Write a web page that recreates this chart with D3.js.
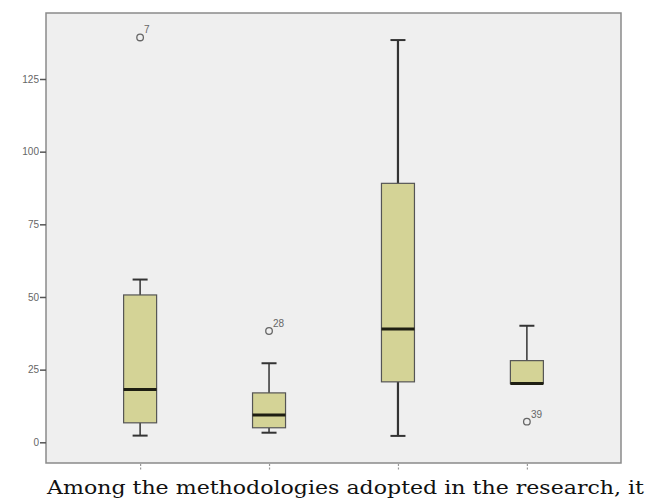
<html>
<script src="https://d3js.org/d3.v7.min.js"></script>
<style>
  body { margin: 0; background: #fff; }
  .tick-lbl { font-family: Arial, "Liberation Sans", sans-serif; font-size: 10px; fill: #666; }
  .caption { font-family: "DejaVu Serif", "Liberation Serif", serif; font-size: 19px; fill: #111; }
</style>
<body>
<svg width="653" height="500"></svg>
<script>
// box summaries
var groups   = ["1", "2", "3", "4"];
var whiskLo  = [2.3, 3.3, 2.2, 20.2];
var q1       = [6.7, 5.0, 20.8, 20.2];
var median   = [18.2, 9.4, 39.0, 20.2];
var q3       = [50.7, 17.0, 89.1, 28.1];
var whiskHi  = [56.0, 27.2, 138.4, 40.1];
var outGroup = ["1", "2", "4"];
var outValue = [139.3, 38.3, 7.1];
var outLabel = ["7", "28", "39"];
var yTicks   = [0, 25, 50, 75, 100, 125];

function draw() {
  var svg = d3.select("svg");
  var pLeft = 46, pRight = 621, pTop = 13, pBottom = 463;

  var x = d3.scalePoint().domain(groups).range([pLeft, pRight]).padding(0.73);
  var y = d3.scaleLinear().domain([0, 125]).range([442.3, 79]);

  // plot frame
  svg.append("rect")
    .attr("x", pLeft).attr("y", pTop)
    .attr("width", pRight - pLeft).attr("height", pBottom - pTop)
    .attr("fill", "#efefef").attr("stroke", "#8a8a8a").attr("stroke-width", 1.5);

  // y axis ticks
  var yAxis = d3.axisLeft(y).tickValues(yTicks).tickSize(6).tickSizeOuter(0).tickPadding(1);
  var gy = svg.append("g").attr("transform", "translate(" + pLeft + ",0)").call(yAxis);
  gy.select(".domain").remove();
  gy.selectAll("line").attr("stroke", "#555").attr("stroke-width", 1.5);
  gy.selectAll("text").attr("class", "tick-lbl").attr("fill", null);

  // x axis ticks (no labels)
  var xAxis = d3.axisBottom(x).tickSize(7).tickFormat("");
  var gx = svg.append("g").attr("transform", "translate(0," + (pBottom + 1) + ")").call(xAxis);
  gx.select(".domain").remove();
  gx.selectAll("line").attr("stroke", "#999").attr("stroke-width", 1.2).attr("stroke-dasharray", "2,1.5");

  var boxes = groups.map(function(g, i) {
    return { g: g, lo: whiskLo[i], q1: q1[i], med: median[i], q3: q3[i], hi: whiskHi[i] };
  });
  var bw = 33, cap = 15;

  var b = svg.append("g").selectAll("g").data(boxes).enter().append("g");

  // whiskers
  b.append("line")
    .attr("x1", function(d){ return x(d.g); }).attr("x2", function(d){ return x(d.g); })
    .attr("y1", function(d){ return y(d.q3); }).attr("y2", function(d){ return y(d.hi); })
    .attr("stroke", "#333").attr("stroke-width", function(d){ return d.g == "3" ? 2.2 : 1.5; });
  b.append("line")
    .attr("x1", function(d){ return x(d.g); }).attr("x2", function(d){ return x(d.g); })
    .attr("y1", function(d){ return y(d.q1); }).attr("y2", function(d){ return y(d.lo); })
    .attr("stroke", "#333").attr("stroke-width", function(d){ return d.g == "3" ? 2.2 : 1.5; });
  // caps
  b.append("line")
    .attr("x1", function(d){ return x(d.g) - cap / 2; }).attr("x2", function(d){ return x(d.g) + cap / 2; })
    .attr("y1", function(d){ return y(d.hi); }).attr("y2", function(d){ return y(d.hi); })
    .attr("stroke", "#333").attr("stroke-width", 2);
  b.filter(function(d){ return d.lo < d.q1; }).append("line")
    .attr("x1", function(d){ return x(d.g) - cap / 2; }).attr("x2", function(d){ return x(d.g) + cap / 2; })
    .attr("y1", function(d){ return y(d.lo); }).attr("y2", function(d){ return y(d.lo); })
    .attr("stroke", "#333").attr("stroke-width", 2);

  // box
  b.append("rect")
    .attr("x", function(d){ return x(d.g) - bw / 2; })
    .attr("y", function(d){ return y(d.q3); })
    .attr("width", bw)
    .attr("height", function(d){ return y(d.q1) - y(d.q3); })
    .attr("fill", "#d4d396").attr("stroke", "#555").attr("stroke-width", 1.2);

  // median
  b.append("line")
    .attr("x1", function(d){ return x(d.g) - bw / 2; }).attr("x2", function(d){ return x(d.g) + bw / 2; })
    .attr("y1", function(d){ return y(d.med); }).attr("y2", function(d){ return y(d.med); })
    .attr("stroke", "#1e1e12").attr("stroke-width", 3);

  // outliers
  var outs = outGroup.map(function(g, i){ return { g: g, v: outValue[i], t: outLabel[i] }; });
  var o = svg.append("g").selectAll("g").data(outs).enter().append("g");
  o.append("circle")
    .attr("cx", function(d){ return x(d.g); }).attr("cy", function(d){ return y(d.v); })
    .attr("r", 3.3).attr("fill", "none").attr("stroke", "#666").attr("stroke-width", 1.3);
  o.append("text").attr("class", "tick-lbl")
    .attr("x", function(d){ return x(d.g) + 4; }).attr("y", function(d){ return y(d.v) - 4; })
    .text(function(d){ return d.t; });

  // caption below the chart
  svg.append("text").attr("class", "caption")
    .attr("x", 47).attr("y", 494)
    .attr("textLength", 597).attr("lengthAdjust", "spacingAndGlyphs")
    .text("Among the methodologies adopted in the research, it");
}
draw();
</script>
</body>
</html>
